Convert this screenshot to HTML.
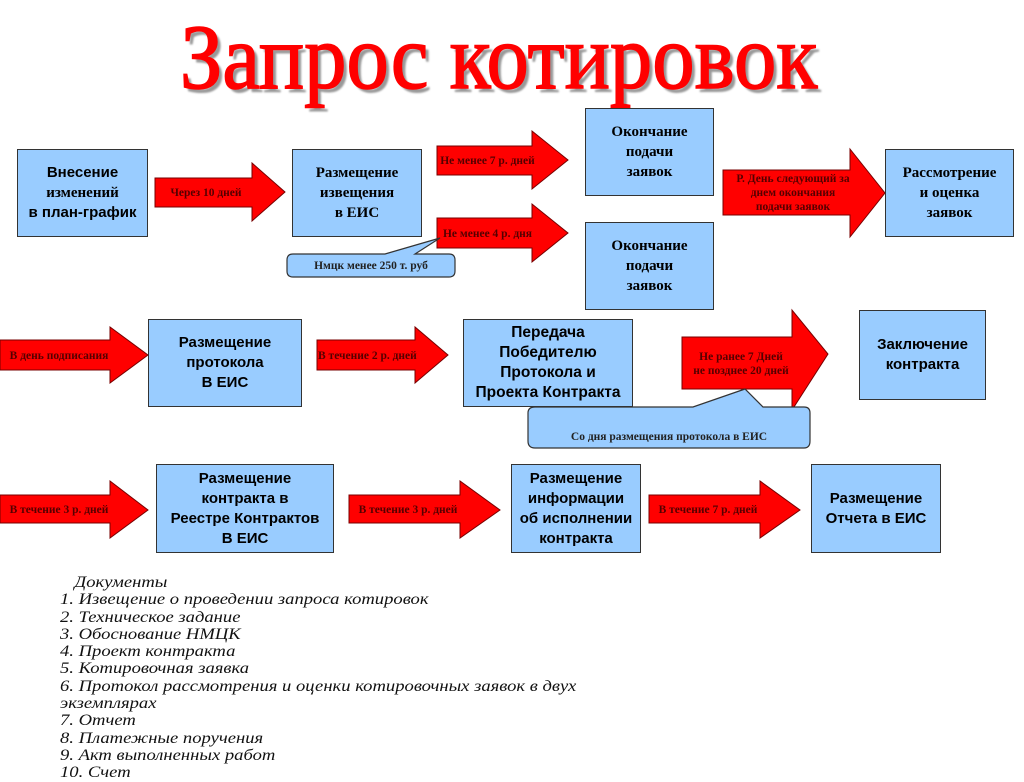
<!DOCTYPE html>
<html><head><meta charset="utf-8"><style>
body{margin:0;width:1024px;height:767px;background:#fff;position:relative;overflow:hidden;font-family:"Liberation Sans","DejaVu Sans",sans-serif}
.b{position:absolute;background:#99ccff;border:1.5px solid #333;box-sizing:border-box;display:flex;align-items:center;justify-content:center;text-align:center;font-weight:bold;font-size:15px;line-height:20px;color:#000}
.s{font-family:"Liberation Serif",serif}
.t{position:absolute;font-family:"Liberation Serif",serif;font-weight:bold;font-size:11.5px;color:#500;white-space:nowrap;text-align:center;line-height:14px}
svg{position:absolute;left:0;top:0}
.docs{position:absolute;left:60px;top:574px;font-family:"Liberation Serif",serif;font-style:italic;font-size:15.5px;line-height:17.3px;color:#111;transform:scaleX(1.2);transform-origin:left top;white-space:nowrap}
</style></head><body>
<div style="position:absolute;left:180px;top:2px;width:700px;font-family:'Liberation Serif',serif;font-size:92px;color:#ff0000;-webkit-text-stroke:1.5px #f00;text-shadow:4px 4px 2px #999;transform:scaleX(0.92);transform-origin:left top;white-space:nowrap;line-height:110px">Запрос котировок</div>

<svg width="1024" height="767">
<g fill="#ff0000" stroke="#700" stroke-width="1">
<polygon points="155,178 252,178 252,163 285,192 252,221 252,207 155,207"/>
<polygon points="437,146 532,146 532,131 568,160 532,189 532,175 437,175"/>
<polygon points="437,218 532,218 532,204 568,233 532,262 532,248 437,248"/>
<polygon points="723,170 850,170 850,149 885,193 850,237 850,215 723,215"/>
<polygon points="0,340 110,340 110,327 148,355 110,383 110,370 0,370"/>
<polygon points="317,340 415,340 415,327 448,355 415,383 415,370 317,370"/>
<polygon points="682,337 792,337 792,310 828,354 792,410 792,389 682,389"/>
<polygon points="0,495 110,495 110,481 148,510 110,538 110,523 0,523"/>
<polygon points="349,495 460,495 460,481 500,510 460,538 460,523 349,523"/>
<polygon points="649,495 760,495 760,481 800,510 760,538 760,523 649,523"/>
</g>
<g fill="#99ccff" stroke="#333" stroke-width="1.2">
<path d="M293,254 L385,254 L440,238 L415,254 L449,254 Q455,254 455,260 L455,271 Q455,277 449,277 L293,277 Q287,277 287,271 L287,260 Q287,254 293,254 Z"/>
<path d="M535,407 L693,407 L745,389 L763,407 L804,407 Q810,407 810,413 L810,441 Q810,448 804,448 L535,448 Q528,448 528,441 L528,413 Q528,407 535,407 Z"/>
</g>
</svg>

<div class="b" style="left:17px;top:149px;width:131px;height:88px"><div>Внесение<br><span class="s">изменений</span><br><span style="white-space:nowrap">в план-график</span></div></div>
<div class="t" style="left:160px;top:186px;width:92px">Через 10 дней</div>
<div class="b s" style="left:292px;top:149px;width:130px;height:88px"><div>Размещение<br>извещения<br>в ЕИС</div></div>
<div class="t" style="left:440px;top:154px;width:95px">Не менее 7 р. дней</div>
<div class="t" style="left:440px;top:227px;width:95px">Не менее 4 р. дня</div>
<div class="t" style="left:287px;top:259px;width:168px;color:#222">Нмцк менее 250 т. руб</div>
<div class="b s" style="left:585px;top:108px;width:129px;height:88px"><div>Окончание<br>подачи<br>заявок</div></div>
<div class="b s" style="left:585px;top:222px;width:129px;height:88px"><div>Окончание<br>подачи<br>заявок</div></div>
<div class="t" style="left:723px;top:172px;width:140px">Р. День следующий за<br>днем окончания<br>подачи заявок</div>
<div class="b s" style="left:885px;top:149px;width:129px;height:88px"><div>Рассмотрение<br>и оценка<br>заявок</div></div>

<div class="t" style="left:3px;top:349px;width:112px">В день подписания</div>
<div class="b" style="left:148px;top:319px;width:154px;height:88px"><div>Размещение<br>протокола<br>В ЕИС</div></div>
<div class="t" style="left:318px;top:349px;width:98px;text-align:left">В течение 2 р. дней</div>
<div class="b" style="left:463px;top:319px;width:170px;height:88px;font-size:15.5px"><div>Передача<br>Победителю<br>Протокола и<br>Проекта Контракта</div></div>
<div class="t" style="left:682px;top:350px;width:118px">Не ранее 7 Дней<br>не позднее 20 дней</div>
<div class="t" style="left:528px;top:430px;width:282px;color:#222">Со дня размещения протокола в ЕИС</div>
<div class="b" style="left:859px;top:310px;width:127px;height:90px"><div>Заключение<br>контракта</div></div>

<div class="t" style="left:3px;top:503px;width:112px">В течение 3 р. дней</div>
<div class="b" style="left:156px;top:464px;width:178px;height:89px"><div>Размещение<br>контракта в<br>Реестре Контрактов<br>В ЕИС</div></div>
<div class="t" style="left:352px;top:503px;width:112px">В течение 3 р. дней</div>
<div class="b" style="left:511px;top:464px;width:130px;height:89px"><div>Размещение<br>информации<br>об исполнении<br>контракта</div></div>
<div class="t" style="left:652px;top:503px;width:112px">В течение 7 р. дней</div>
<div class="b" style="left:811px;top:464px;width:130px;height:89px"><div>Размещение<br>Отчета в ЕИС</div></div>

<div class="docs"><div style="padding-left:12px">Документы</div>
1. Извещение о проведении запроса котировок<br>
2. Техническое задание<br>
3. Обоснование НМЦК<br>
4. Проект контракта<br>
5. Котировочная заявка<br>
6. Протокол рассмотрения и оценки котировочных заявок в двух<br>
экземплярах<br>
7. Отчет<br>
8. Платежные поручения<br>
9. Акт выполненных работ<br>
10. Счет</div>
</body></html>
